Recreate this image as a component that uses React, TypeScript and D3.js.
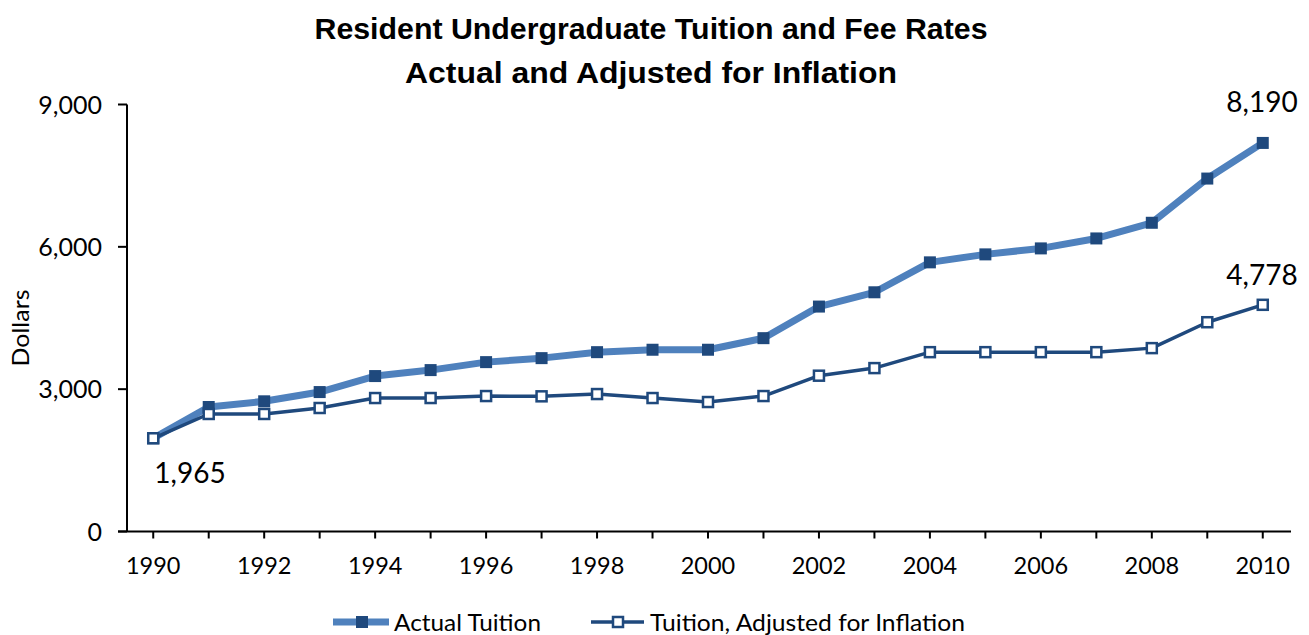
import React from "react";
import * as d3 from "d3";

const years = [1990,1991,1992,1993,1994,1995,1996,1997,1998,1999,2000,2001,2002,2003,2004,2005,2006,2007,2008,2009,2010];
const actualTuition = [1965,2624,2744,2939,3276,3402,3570,3654,3780,3831,3831,4075,4741,5042,5673,5841,5967,6177,6507,7439,8190];
const adjustedTuition = [1965,2477,2477,2603,2813,2813,2855,2849,2897,2813,2729,2855,3284,3444,3780,3780,3780,3780,3865,4411,4778];
const yTicks = [0,3000,6000,9000];
const xLabelYears = [1990,1992,1994,1996,1998,2000,2002,2004,2006,2008,2010];
const titleLines = ["Resident Undergraduate Tuition and Fee Rates","Actual and Adjusted for Inflation"];
const seriesNames = ["Actual Tuition","Tuition, Adjusted for Inflation"];

const W = 1309, H = 635;
const DARK = "#1F497D", LIGHT = "#4F81BD";
const FONT = "Lato, 'Open Sans', sans-serif";

export default function App() {
  const x = d3.scalePoint<number>().domain(years).range([125.5, 1290.5]).padding(0.5);
  const y = d3.scaleLinear().domain([0, 9000]).range([531.5, 104.5]);
  const line = d3.line<number>().x((_, i) => x(years[i])!).y(d => y(d));
  const fmt = d3.format(",");
  const axisLeft = 127;
  const axisBottom = y(0);

  return (
    <svg width={W} height={H} style={{ position: "absolute", left: 0, top: 0, display: "block", background: "#fff" }}>
      {titleLines.map((t, i) => (
        <text key={i} x={651} y={39 + i * 44} textAnchor="middle" fontFamily="'Liberation Sans', Arial, sans-serif"
          fontWeight="bold" fontSize={29} textLength={i === 0 ? 673 : 492} lengthAdjust="spacingAndGlyphs" fill="#000">{t}</text>
      ))}
      <line x1={axisLeft} x2={axisLeft} y1={y(9000)} y2={axisBottom} stroke="#000" strokeWidth={2} />
      {yTicks.map(t => (
        <g key={t}>
          <line x1={118} x2={axisLeft} y1={y(t)} y2={y(t)} stroke="#000" strokeWidth={2} />
          <text x={102} y={y(t)} dy="0.36em" textAnchor="end" fontFamily={FONT} fontSize={25} fill="#000">{fmt(t)}</text>
        </g>
      ))}
      <text transform={`translate(29,${328}) rotate(-90)`} textAnchor="middle" fontFamily={FONT} fontSize={24}
        textLength={77} lengthAdjust="spacingAndGlyphs" fill="#000">Dollars</text>
      <line x1={118} x2={1291} y1={axisBottom} y2={axisBottom} stroke="#000" strokeWidth={2} />
      {years.map(yr => (
        <line key={yr} x1={x(yr)!} x2={x(yr)!} y1={axisBottom} y2={axisBottom + 7} stroke="#000" strokeWidth={2} />
      ))}
      {xLabelYears.map(yr => (
        <text key={yr} x={x(yr)!} y={566} dy="0.36em" textAnchor="middle" fontFamily={FONT} fontSize={23.5} fill="#000">{yr}</text>
      ))}
      <path d={line(actualTuition)!} fill="none" stroke={LIGHT} strokeWidth={7} strokeLinejoin="round" />
      {actualTuition.map((v, i) => (
        <rect key={i} x={x(years[i])! - 6} y={y(v) - 6} width={12} height={12} fill={DARK} />
      ))}
      <path d={line(adjustedTuition)!} fill="none" stroke={DARK} strokeWidth={3.5} strokeLinejoin="round" />
      {adjustedTuition.map((v, i) => (
        <rect key={i} x={x(years[i])! - 5} y={y(v) - 5} width={10} height={10} fill="#fff" stroke={DARK} strokeWidth={2.5} />
      ))}
      <text x={190} y={473} dy="0.36em" textAnchor="middle" fontFamily={FONT} fontSize={28} fill="#000">{fmt(actualTuition[0])}</text>
      <text x={1262} y={102} dy="0.36em" textAnchor="middle" fontFamily={FONT} fontSize={28} fill="#000">{fmt(actualTuition[20])}</text>
      <text x={1262} y={275} dy="0.36em" textAnchor="middle" fontFamily={FONT} fontSize={28} fill="#000">{fmt(adjustedTuition[20])}</text>
      <line x1={333} x2={389} y1={622} y2={622} stroke={LIGHT} strokeWidth={7} />
      <rect x={356} y={616} width={12} height={12} fill={DARK} />
      <text x={394} y={622} dy="0.36em" fontFamily={FONT} fontSize={24} textLength={147} lengthAdjust="spacingAndGlyphs" fill="#000">{seriesNames[0]}</text>
      <line x1={591} x2={644} y1={622} y2={622} stroke={DARK} strokeWidth={3.5} />
      <rect x={613} y={617} width={10} height={10} fill="#fff" stroke={DARK} strokeWidth={2.5} />
      <text x={650} y={622} dy="0.36em" fontFamily={FONT} fontSize={24} textLength={315} lengthAdjust="spacingAndGlyphs" fill="#000">{seriesNames[1]}</text>
    </svg>
  );
}
